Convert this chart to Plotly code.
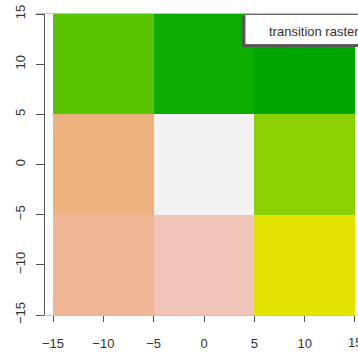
import colorsys
import plotly.graph_objects as go

# Raster cell centres and values (rows listed bottom to top)
x_centers = [-10, 0, 10]
y_centers = [-10, 0, 10]
cell_values = [
    [0.81, 0.886, 0.49],
    [0.77, 1.00, 0.334],
    [0.233, 0.039, 0.00],
]
tick_vals = [-15, -10, -5, 0, 5, 10, 15]
legend_title = "transition raster"


def terrain(t):
    """R-style terrain.colors ramp evaluated at t in [0, 1]."""
    if t <= 0.5:
        f = t / 0.5
        h = 4 / 12 + (2 / 12 - 4 / 12) * f
        s = 1.0
        v = 0.65 + 0.25 * f
    else:
        f = (t - 0.5) / 0.5
        h = (2 / 12) * (1 - f)
        s = 1.0 - f
        v = 0.90 + 0.05 * f
    r, g, b = colorsys.hsv_to_rgb(h, s, v)
    return f"rgb({round(r * 255)},{round(g * 255)},{round(b * 255)})"


n_stops = 201
colorscale = [[i / (n_stops - 1), terrain(i / (n_stops - 1))] for i in range(n_stops)]

fig = go.Figure(
    go.Heatmap(
        x=x_centers,
        y=y_centers,
        z=cell_values,
        zmin=0,
        zmax=1,
        colorscale=colorscale,
        showscale=False,
        hoverinfo="skip",
        xgap=0,
        ygap=0,
    )
)

W, H = 358, 352
ml, mr, mt, mb = 36, 0, 14, 37
pw, ph = W - ml - mr, H - mt - mb


def px_x(p):
    return (p - ml) / pw


def px_y(p):
    return (H - mb - p) / ph


font_family = "Liberation Sans, Arial, sans-serif"
tick_font = dict(family=font_family, size=13, color="#333333")

fig.update_layout(
    width=W,
    height=H,
    margin=dict(l=ml, r=mr, t=mt, b=mb, pad=0),
    paper_bgcolor="white",
    plot_bgcolor="white",
    showlegend=False,
    xaxis=dict(
        range=[-16.69, 15.3],
        tickvals=tick_vals,
        ticks="outside",
        ticklen=6,
        tickwidth=1,
        tickcolor="#555555",
        tickfont=tick_font,
        ticklabelstandoff=10,
        showgrid=False,
        zeroline=False,
        showline=True,
        linecolor="#C4C4C4",
        linewidth=1,
        mirror=True,
    ),
    yaxis=dict(
        range=[-15, 15],
        tickvals=tick_vals,
        ticks="outside",
        ticklen=8,
        tickwidth=1,
        tickcolor="#555555",
        tickangle=-90,
        tickfont=tick_font,
        ticklabelstandoff=6,
        showgrid=False,
        zeroline=False,
        showline=True,
        linecolor="#555555",
        linewidth=1,
        anchor="free",
        position=px_x(44),
    ),
)

# The last x tick label sits on the page edge, so it is written as an
# annotation at that tick (the axis would otherwise drop it)
fig.add_annotation(
    xref="x", yref="paper",
    x=tick_vals[-1], y=px_y(342),
    xanchor="center", yanchor="middle",
    text=str(tick_vals[-1]), showarrow=False,
    font=tick_font,
)

# Legend box with a soft drop shadow, running off the right edge
fig.add_shape(
    type="rect", xref="paper", yref="paper",
    x0=px_x(242), x1=px_x(380), y0=px_y(47), y1=px_y(16),
    fillcolor="#555555", line=dict(width=0), layer="above",
)
fig.add_shape(
    type="rect", xref="paper", yref="paper",
    x0=px_x(245), x1=px_x(380), y0=px_y(44.5), y1=px_y(14.5),
    fillcolor="white", line=dict(color="#666666", width=1), layer="above",
)
fig.add_annotation(
    xref="paper", yref="paper",
    x=px_x(267), y=px_y(31),
    xanchor="left", yanchor="middle",
    text=legend_title, showarrow=False,
    font=dict(family=font_family, size=13, color="#333333"),
)

fig.write_html("out.html")
